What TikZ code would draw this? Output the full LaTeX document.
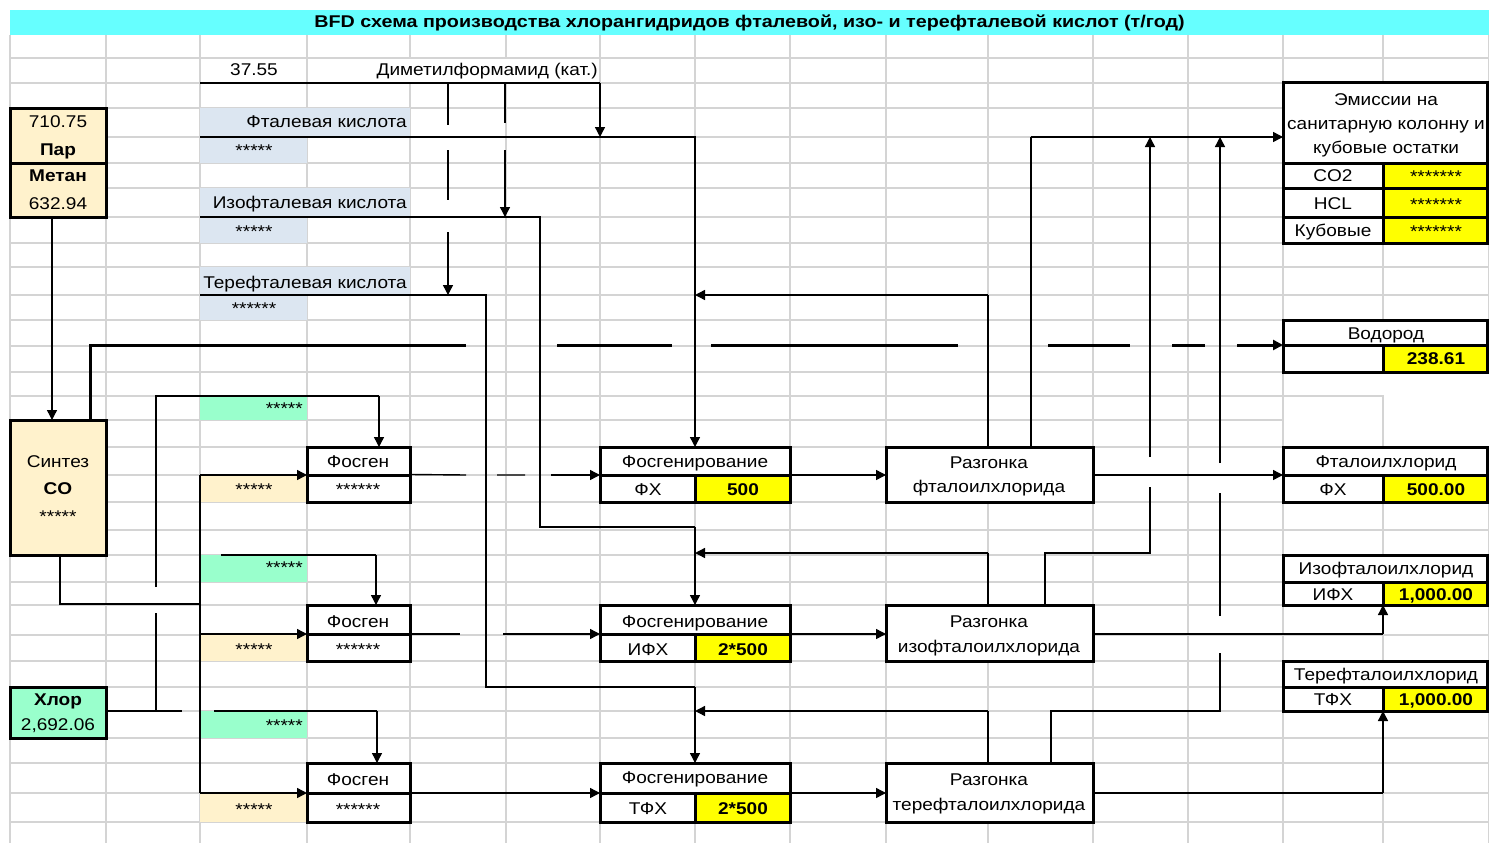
\documentclass[tikz,border=0pt]{standalone}
\usepackage{fontspec}
\setmainfont{Liberation Sans}[FakeStretch=1.12]
\newfontfamily\titlefont{Liberation Sans}[FakeStretch=1.16]
\usetikzlibrary{arrows.meta}
\definecolor{gridc}{HTML}{D4D4D4}
\definecolor{titlec}{HTML}{66FFFF}
\definecolor{bluec}{HTML}{DCE6F1}
\definecolor{greenc}{HTML}{99FFCC}
\definecolor{peachc}{HTML}{FFF2CC}
\definecolor{yellowc}{HTML}{FFFF00}
\newcommand\myfs{\fontsize{17}{20}\selectfont}
\tikzset{
  gridline/.style={draw=gridc, line width=1.3pt},
  cell/.style={draw=none, inner sep=0pt, outer sep=0pt, anchor=north west},
  box/.style={draw, line width=3pt, inner sep=0pt, outer sep=0pt, anchor=north west, fill=white},
  thk/.style={line width=3pt},
  ln/.style={line width=1.4pt},
  arr/.style={line width=1.4pt, -{Triangle[length=10pt,width=10pt]}},
  thkarr/.style={line width=3pt, -{Triangle[length=10pt,width=10pt]}},
  txt/.style={anchor=base, inner sep=0pt, font=\myfs},
  txtr/.style={txt, anchor=base east},
  bt/.style={txt, font=\myfs\bfseries},
}
\begin{document}
\begin{tikzpicture}[x=1pt,y=-1pt]
\useasboundingbox (0,0) rectangle (1489,843);
\fill[white] (0,0) rectangle (1489,843);
% grid
\foreach \gx in {10,106,200,307,410,506,600,695,790,886,988,1093,1188,1283,1383,1489}
  \draw[gridline] (\gx,35) -- (\gx,843);
\foreach \gy in {58,83,108,137,163,188,217,243,267,295,320,346,372,396,420,447,475,502,530,555,582,605,635,661,687,711,738,763,793,822}
  \draw[gridline] (10,\gy) -- (1489,\gy);
% white patches (text overflow / empty cells)
\fill[white] (308,59) rectangle (599,82);
\fill[white] (1284,373) rectangle (1489,446);
\draw[gridline] (1283,396) -- (1383,396) -- (1383,447);
% title
\node[cell, fill=titlec, minimum width=1479pt, minimum height=25pt] (titlebar) at (10,10) {};
\node[txt, font=\titlefont\myfs\bfseries] (title) at (749.5,28) {BFD схема производства хлорангидридов фталевой, изо- и терефталевой кислот (т/год)};

% coloured cells
\node[cell, fill=bluec, minimum width=210pt, minimum height=29pt] (acid1) at (200,108) {};
\node[cell, fill=bluec, minimum width=107pt, minimum height=26pt] (acid1s) at (200,137) {};
\node[cell, fill=bluec, minimum width=210pt, minimum height=29pt] (acid2) at (200,188) {};
\node[cell, fill=bluec, minimum width=107pt, minimum height=26pt] (acid2s) at (200,217) {};
\node[cell, fill=bluec, minimum width=210pt, minimum height=28pt] (acid3) at (200,267) {};
\node[cell, fill=bluec, minimum width=107pt, minimum height=25pt] (acid3s) at (200,295) {};
\node[cell, fill=greenc, minimum width=107pt, minimum height=24pt] (cl1) at (200,396) {};
\node[cell, fill=greenc, minimum width=107pt, minimum height=27pt] (cl2) at (200,555) {};
\node[cell, fill=greenc, minimum width=107pt, minimum height=27pt] (cl3) at (200,711) {};
\node[cell, fill=peachc, minimum width=107pt, minimum height=27pt] (co1) at (200,475) {};
\node[cell, fill=peachc, minimum width=107pt, minimum height=26pt] (co2) at (200,635) {};
\node[cell, fill=peachc, minimum width=107pt, minimum height=29pt] (co3) at (200,793) {};

% boxes
\node[box, fill=peachc, minimum width=96pt, minimum height=109pt] (par) at (10,108) {};
\draw[thk] (10,163) -- (106,163);
\node[box, fill=peachc, minimum width=96pt, minimum height=135pt] (co) at (10,420) {};
\node[box, fill=greenc, minimum width=96pt, minimum height=51pt] (chlor) at (10,687) {};

\node[box, minimum width=103pt, minimum height=55pt] (fos1) at (307,447) {};
\draw[thk] (307,475) -- (410,475);
\node[box, minimum width=103pt, minimum height=56pt] (fos2) at (307,605) {};
\draw[thk] (307,634) -- (410,634);
\node[box, minimum width=103pt, minimum height=59pt] (fos3) at (307,763) {};
\draw[thk] (307,793) -- (410,793);

\node[box, minimum width=190pt, minimum height=55pt] (fg1) at (600,447) {};
\fill[yellowc] (695,475) rectangle (788.5,500.5);
\draw[thk] (600,475) -- (790,475) (695,475) -- (695,502);
\node[box, minimum width=190pt, minimum height=56pt] (fg2) at (600,605) {};
\fill[yellowc] (695,634) rectangle (788.5,659.5);
\draw[thk] (600,634) -- (790,634) (695,634) -- (695,661);
\node[box, minimum width=190pt, minimum height=59pt] (fg3) at (600,763) {};
\fill[yellowc] (695,793) rectangle (788.5,820.5);
\draw[thk] (600,793) -- (790,793) (695,793) -- (695,822);

\node[box, minimum width=207pt, minimum height=55pt] (rz1) at (886,447) {};
\node[box, minimum width=207pt, minimum height=56pt] (rz2) at (886,605) {};
\node[box, minimum width=207pt, minimum height=59pt] (rz3) at (886,763) {};

\node[box, minimum width=204pt, minimum height=160pt] (em) at (1283,83) {};
\fill[yellowc] (1383,163) rectangle (1485.5,241.5);
\draw[thk] (1283,163) -- (1487,163) (1283,188) -- (1487,188) (1283,217) -- (1487,217) (1383,163) -- (1383,243);
\node[box, minimum width=204pt, minimum height=52pt] (h2) at (1283,320) {};
\fill[yellowc] (1383,345) rectangle (1485.5,370.5);
\draw[thk] (1283,345) -- (1487,345) (1383,345) -- (1383,372);
\node[box, minimum width=204pt, minimum height=55pt] (p1) at (1283,447) {};
\fill[yellowc] (1383,475) rectangle (1485.5,500.5);
\draw[thk] (1283,475) -- (1487,475) (1383,475) -- (1383,502);
\node[box, minimum width=204pt, minimum height=50pt] (p2) at (1283,555) {};
\fill[yellowc] (1383,582) rectangle (1485.5,603.5);
\draw[thk] (1283,582) -- (1487,582) (1383,582) -- (1383,605);
\node[box, minimum width=204pt, minimum height=50pt] (p3) at (1283,661) {};
\fill[yellowc] (1383,687) rectangle (1485.5,709.5);
\draw[thk] (1283,687) -- (1487,687) (1383,687) -- (1383,711);

% ---------- connectors ----------
% DMF catalyst
\coordinate (dmf0) at (200,83);
\draw[ln] (dmf0) -- (600,83);
\draw[arr] (600,83) -- (600,137);
\draw[ln] (448,83) -- (448,125) (448,150) -- (448,200);
\draw[arr] (448,232) -- (448,295);
\draw[ln] (505,83) -- (505,123);
\draw[arr] (505,150) -- (505,217);
% acids
\draw[arr] (acid1.south west) -- (695,137) -- (fg1.north);
\draw[ln] (acid2.south west) -- (540,217) -- (540,527) -- (695,527);
\draw[arr] (695,527) -- (fg2.north);
\draw[ln] (acid3.south west) -- (486,295) -- (486,687) -- (695,687);
\draw[arr] (695,687) -- (fg3.north);
% hydrogen (thick, broken)
\draw[thk] (90,420) -- (90,345) -- (466,345);
\draw[thk] (557,345) -- (672,345) (711,345) -- (958,345) (1048,345) -- (1130,345) (1172,345) -- (1205,345);
\draw[thkarr] (1237,345) -- (h2.west |- 0,345);
% methane -> CO synthesis
\draw[arr] (52,217) -- (52,420);
% CO -> phosgene
\draw[ln] (60,555) -- (60,604) -- (200,604);
\draw[ln] (200,475) -- (200,793);
\draw[arr] (200,475) -- (307,475);
\draw[arr] (200,634) -- (307,634);
\draw[arr] (200,793) -- (307,793);
% chlorine -> phosgene
\draw[ln] (chlor.east |- 0,711) -- (182,711);
\draw[ln] (214,711) -- (377,711);
\draw[arr] (377,711) -- (377,763);
\draw[ln] (156,711) -- (156,613);
\draw[ln] (156,587) -- (156,396) -- (379,396);
\draw[arr] (379,396) -- (379,447);
\draw[ln] (221,555) -- (376,555);
\draw[arr] (376,555) -- (376,605);
% phosgene -> phosgenation
\draw[ln] (fos1.east) -- (466,475) (497,475) -- (525,475);
\draw[arr] (551,475) -- (600,475);
\draw[ln] (410,634) -- (460,634);
\draw[arr] (503,634) -- (600,634);
\draw[arr] (410,793) -- (600,793);
% phosgenation -> distillation
\draw[arr] (790,475) -- (886,475);
\draw[arr] (790,634) -- (886,634);
\draw[arr] (790,793) -- (886,793);
% distillation -> products
\draw[arr] (1093,475) -- (1283,475);
\draw[ln] (1093,634) -- (1383,634);
\draw[arr] (1383,634) -- (1383,605);
\draw[ln] (1093,793) -- (1383,793);
\draw[arr] (1383,793) -- (1383,711);
% recycles
\draw[ln] (988,447) -- (988,295);
\draw[arr] (988,295) -- (695,295);
\draw[ln] (988,605) -- (988,553);
\draw[arr] (988,553) -- (695,553);
\draw[ln] (988,763) -- (988,711);
\draw[arr] (988,711) -- (695,711);
% emissions
\draw[ln] (1031,447) -- (1031,137);
\draw[arr] (1031,137) -- (1283,137);
\draw[ln] (1045,605) -- (1045,553) -- (1150,553) -- (1150,487);
\draw[arr] (1150,457) -- (1150,137);
\draw[ln] (1051,763) -- (1051,711) -- (1220,711) -- (1220,653) (1220,616) -- (1220,493);
\draw[arr] (1220,463) -- (1220,137);

% ---------- texts ----------
\node[txt] (t3755) at (254,76) {37.55};
\node[txtr] (tdmf) at (598,76) {Диметилформамид (кат.)};
\node[txtr] (ta1) at (407,128) {Фталевая кислота};
\node[txt] (ta1s) at (254,156) {*****};
\node[txtr] (ta2) at (407,208) {Изофталевая кислота};
\node[txt] (ta2s) at (254,237) {*****};
\node[txtr] (ta3) at (407,288) {Терефталевая кислота};
\node[txt] (ta3s) at (254,314) {******};
\node[txt] (tpar1) at (58,128) {710.75};
\node[bt] (tpar2) at (58,155) {Пар};
\node[bt] (tpar3) at (58,181) {Метан};
\node[txt] (tpar4) at (58,209) {632.94};
\node[txt] (tco1) at (58,467) {Синтез};
\node[bt] (tco2) at (58,494) {CO};
\node[txt] (tco3) at (58,522) {*****};
\node[bt] (tcl1) at (58,705) {Хлор};
\node[txt] (tcl2) at (58,730) {2,692.06};
\node[txtr] (tg1) at (303,414) {*****};
\node[txtr] (tg2) at (303,573) {*****};
\node[txtr] (tg3) at (303,731) {*****};
\node[txt] (tp1) at (254,495) {*****};
\node[txt] (tp2) at (254,655) {*****};
\node[txt] (tp3) at (254,815) {*****};
\node[txt] (tf1) at (358,467) {Фосген};
\node[txt] (tf1s) at (358,495) {******};
\node[txt] (tf2) at (358,627) {Фосген};
\node[txt] (tf2s) at (358,655) {******};
\node[txt] (tf3) at (358,785) {Фосген};
\node[txt] (tf3s) at (358,815) {******};
\node[txt] (tg1a) at (695,467) {Фосгенирование};
\node[txt] (tg1b) at (648,495) {ФХ};
\node[bt] (tg1c) at (743,495) {500};
\node[txt] (tg2a) at (695,627) {Фосгенирование};
\node[txt] (tg2b) at (648,655) {ИФХ};
\node[bt] (tg2c) at (743,655) {2*500};
\node[txt] (tg3a) at (695,783) {Фосгенирование};
\node[txt] (tg3b) at (648,814) {ТФХ};
\node[bt] (tg3c) at (743,814) {2*500};
\node[txt] (tr1a) at (989,468) {Разгонка};
\node[txt] (tr1b) at (989,492) {фталоилхлорида};
\node[txt] (tr2a) at (989,627) {Разгонка};
\node[txt] (tr2b) at (989,652) {изофталоилхлорида};
\node[txt] (tr3a) at (989,785) {Разгонка};
\node[txt] (tr3b) at (989,810) {терефталоилхлорида};
\node[txt] (te1) at (1386,105) {Эмиссии на};
\node[txt] (te2) at (1386,129) {санитарную колонну и};
\node[txt] (te3) at (1386,153) {кубовые остатки};
\node[txt] (te4) at (1333,181) {CO2};
\node[txt] (te5) at (1333,209) {HCL};
\node[txt] (te6) at (1333,236) {Кубовые};
\node[txt] (te4s) at (1436,182) {*******};
\node[txt] (te5s) at (1436,210) {*******};
\node[txt] (te6s) at (1436,237) {*******};
\node[txt] (th1) at (1386,339) {Водород};
\node[bt] (th2) at (1436,364) {238.61};
\node[txt] (tq1) at (1386,467) {Фталоилхлорид};
\node[txt] (tq1b) at (1333,495) {ФХ};
\node[bt] (tq1c) at (1436,495) {500.00};
\node[txt] (tq2) at (1386,574) {Изофталоилхлорид};
\node[txt] (tq2b) at (1333,600) {ИФХ};
\node[bt] (tq2c) at (1436,600) {1,000.00};
\node[txt] (tq3) at (1386,680) {Терефталоилхлорид};
\node[txt] (tq3b) at (1333,705) {ТФХ};
\node[bt] (tq3c) at (1436,705) {1,000.00};
\end{tikzpicture}
\end{document}
